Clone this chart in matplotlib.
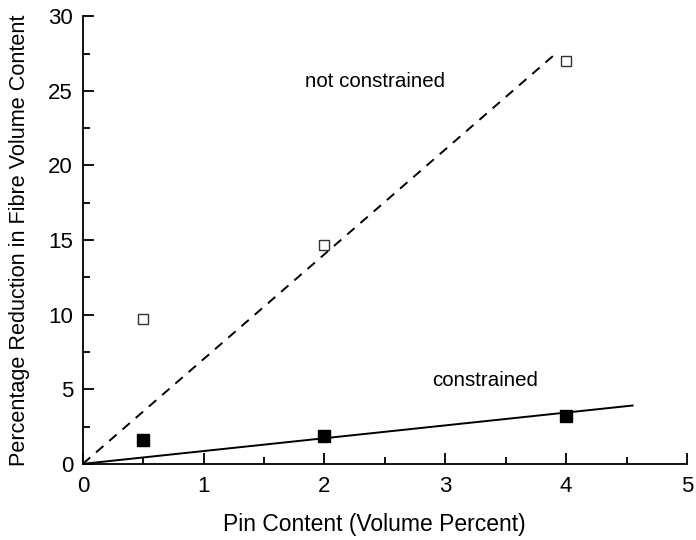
import numpy as np
import matplotlib
matplotlib.use("Agg")
import matplotlib.pyplot as plt
from matplotlib.ticker import MultipleLocator

plt.rcParams['font.family'] = ['Liberation Sans', 'DejaVu Sans']

# Pin content (vol %) and reduction in fibre volume content (%)
pin_content = [0.5, 2.0, 4.0]
not_constrained = [9.7, 14.7, 27.0]
constrained = [1.6, 1.9, 3.2]

# x-extent of each fitted line
fit_end_not_constrained = 3.93
fit_end_constrained = 4.55


def slope_through_origin(x, y):
    x = np.asarray(x)
    y = np.asarray(y)
    return float(np.sum(x * y) / np.sum(x * x))


fig = plt.figure(figsize=(6.96, 5.4), dpi=100)
ax = fig.add_axes([0.119, 0.141, 0.868, 0.829])

k_nc = slope_through_origin(pin_content, not_constrained)
k_c = slope_through_origin(pin_content, constrained)

xs = np.array([0.0, fit_end_not_constrained])
ax.plot(xs, k_nc * xs, color='black', lw=1.4, linestyle=(0, (5, 4)))
xs = np.array([0.0, fit_end_constrained])
ax.plot(xs, k_c * xs, color='black', lw=1.4)

ax.plot(pin_content, not_constrained, linestyle='none', marker='s', ms=7.5,
        mfc='white', mec='#333333', mew=1.0)
ax.plot(pin_content, constrained, linestyle='none', marker='s', ms=8,
        mfc='black', mec='black')

ax.text(2.42, 25.6, 'not constrained', fontsize=14.8, ha='center', va='center')
ax.text(3.33, 5.6, 'constrained', fontsize=14.8, ha='center', va='center')

ax.set_xlim(0, 5)
ax.set_ylim(0, 30)
ax.xaxis.set_major_locator(MultipleLocator(1))
ax.xaxis.set_minor_locator(MultipleLocator(0.5))
ax.yaxis.set_major_locator(MultipleLocator(5))
ax.yaxis.set_minor_locator(MultipleLocator(2.5))

for s in ('top', 'right'):
    ax.spines[s].set_visible(False)
for s in ('left', 'bottom'):
    ax.spines[s].set_linewidth(1.3)

ax.tick_params(which='major', direction='in', length=8, width=1.3, labelsize=16)
ax.tick_params(axis='x', which='major', pad=9)
ax.tick_params(axis='y', which='major', pad=7)
ax.tick_params(which='minor', direction='in', length=5, width=1.3)

ax.set_xlabel('Pin Content (Volume Percent)', fontsize=16.5)
ax.xaxis.set_label_coords(0.483, -0.11)
ax.set_ylabel('Percentage Reduction in Fibre Volume Content', fontsize=15.6)
ax.yaxis.set_label_coords(-0.087, 0.5)

fig.savefig('out.png', dpi=100)
